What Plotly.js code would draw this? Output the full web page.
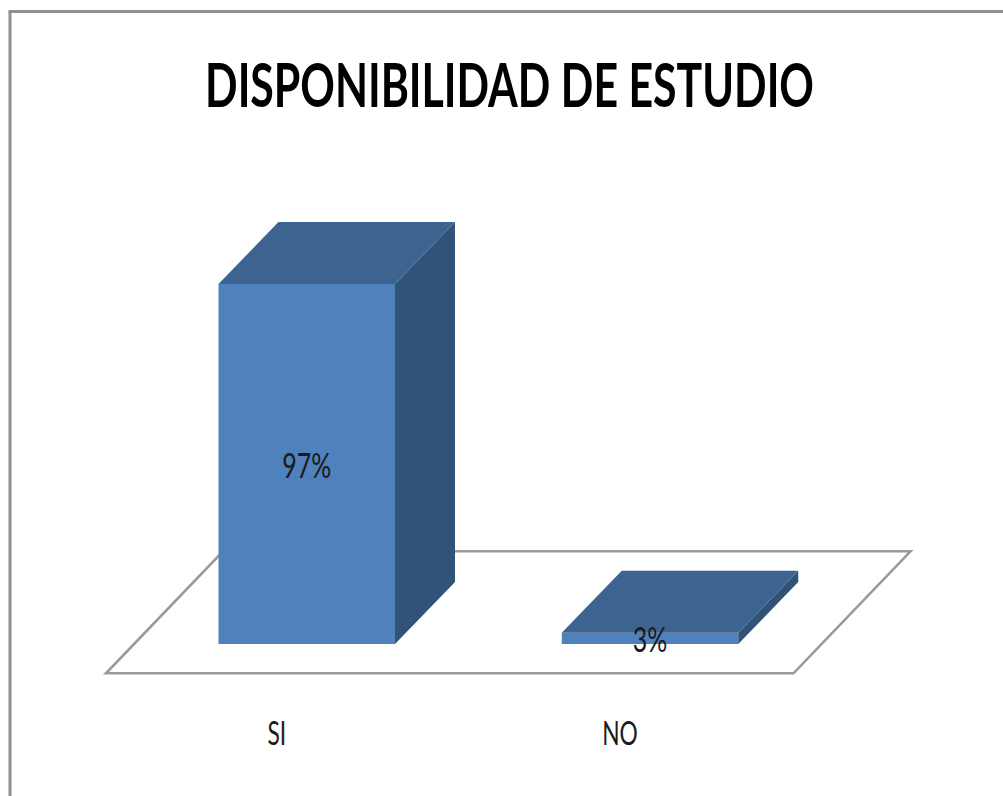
<!DOCTYPE html>
<html>
<head>
<meta charset="utf-8">
<script src="https://cdn.plot.ly/plotly-3.0.1.min.js"></script>
<style>html,body{margin:0;padding:0;background:#fff}#chart{width:1003px;height:796px}</style>
</head>
<body>
<div id="chart"></div>
<script>
var categories = ["SI", "NO"];
var values = [97, 3];
var labels = ["97%", "3%"];
var chartTitle = "DISPONIBILIDAD DE ESTUDIO";

var W = 1003, H = 796;
var plotBottomPx = 680, floorPx = 673.3, zeroPx = 644, pxPerValue = 3.711;
var firstCatPx = 306.75, pxPerCat = 343.25;
var barWidth = 176.5 / pxPerCat;
var depthX = 60 / pxPerCat, depthY = 62 / pxPerValue;
var xRange = [-firstCatPx / pxPerCat, (W - firstCatPx) / pxPerCat];
var yRange = [(zeroPx - plotBottomPx) / pxPerValue, zeroPx / pxPerValue];

var xs = categories.map(function (c, i) { return i; });
var topX = [], topY = [], sideX = [], sideY = [];
xs.forEach(function (x, i) {
  var l = x - barWidth / 2, r = x + barWidth / 2, v = values[i];
  topX.push(l, r, r + depthX, l + depthX, l, null);
  topY.push(v, v, v + depthY, v + depthY, v, null);
  sideX.push(r, r, r + depthX, r + depthX, r, null);
  sideY.push(0, v, v + depthY, depthY, 0, null);
});

var floorLeft = (106 - firstCatPx) / pxPerCat, floorRight = (793.5 - firstCatPx) / pxPerCat;
var floorDX = 117 / pxPerCat, floorBack = (zeroPx - 551.3) / pxPerValue, floorFront = (zeroPx - floorPx) / pxPerValue;

var traces = [
  { type: "bar", x: xs, y: values, width: barWidth, marker: { color: "#4F81BD", line: { width: 0 } }, hoverinfo: "skip" },
  { type: "scatter", mode: "lines", x: sideX, y: sideY, fill: "toself", fillcolor: "#325378", line: { width: 0, color: "#325378" }, hoverinfo: "skip" },
  { type: "scatter", mode: "lines", x: topX, y: topY, fill: "toself", fillcolor: "#3D6491", line: { width: 0, color: "#3D6491" }, hoverinfo: "skip" },
  { type: "scatter", mode: "text", x: xs, y: values.map(function (v) { return v / 2 - 1; }), text: labels, textposition: "middle center",
    textfont: { family: "Lato, sans-serif", size: 24, color: "#1a1a1a" }, hoverinfo: "skip", cliponaxis: false }
];

var layout = {
  width: W, height: H,
  margin: { l: 0, r: 0, t: 0, b: H - plotBottomPx, pad: 0 },
  paper_bgcolor: "#ffffff", plot_bgcolor: "rgba(0,0,0,0)",
  showlegend: false, hovermode: false,
  title: { text: chartTitle, x: 509.5 / W, xanchor: "center", y: 1 - 85 / H, yanchor: "middle",
    font: { family: "Lato, sans-serif", size: 42, weight: 700, color: "#000000" } },
  xaxis: { range: xRange, tickmode: "array", tickvals: xs.map(function (x) { return x - depthX / 2; }), ticktext: categories,
    showgrid: false, zeroline: false, showline: false, ticks: "outside", ticklen: 32, tickcolor: "rgba(0,0,0,0)",
    tickfont: { family: "Lato, sans-serif", size: 24, color: "#1a1a1a" } },
  yaxis: { range: yRange, visible: false },
  shapes: [
    { type: "path", layer: "below", xref: "x", yref: "y",
      path: "M" + floorLeft + "," + floorFront + "L" + floorRight + "," + floorFront + "L" + (floorRight + floorDX) + "," + floorBack + "L" + (floorLeft + floorDX) + "," + floorBack + "Z",
      fillcolor: "#ffffff", line: { color: "#9a9a9a", width: 2.6 } },
    { type: "line", xref: "paper", yref: "paper", x0: 10 / W, x1: 10 / W, y0: (plotBottomPx - 11.5) / plotBottomPx, y1: (plotBottomPx - H) / plotBottomPx, line: { color: "#919191", width: 3 } },
    { type: "line", xref: "paper", yref: "paper", x0: 8.5 / W, x1: 1, y0: (plotBottomPx - 11.5) / plotBottomPx, y1: (plotBottomPx - 11.5) / plotBottomPx, line: { color: "#919191", width: 3 } }
  ]
};

function stretch(el, sx, sy) {
  var b = el.getBBox();
  var cx = b.x + b.width / 2, cy = b.y + b.height / 2;
  var old = el.getAttribute("transform") || "";
  el.setAttribute("transform", old + " translate(" + cx + "," + cy + ") scale(" + sx + "," + sy + ") translate(" + (-cx) + "," + (-cy) + ")");
}

Plotly.newPlot("chart", traces, layout, { displayModeBar: false, staticPlot: true }).then(function (gd) {
  gd.querySelectorAll(".gtitle").forEach(function (t) { stretch(t, 1.02, 1.47); });
  gd.querySelectorAll(".xtick text").forEach(function (t) { stretch(t, 0.95, 1.35); });
  gd.querySelectorAll(".textpoint text").forEach(function (t) { stretch(t, 1.04, 1.45); });
});
</script>
</body>
</html>
